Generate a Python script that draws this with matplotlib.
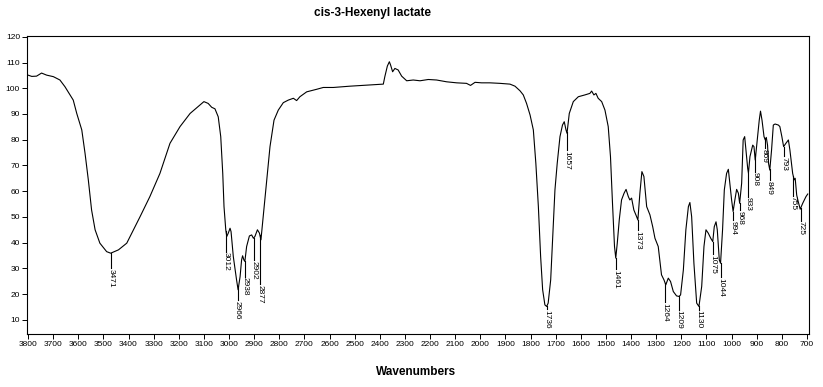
import matplotlib.pyplot as plt
import numpy as np

# spectrum (wavenumber, %T)
wavenumber = [
    3800, 3785, 3766, 3746, 3726, 3699, 3673, 3653, 3633, 3620, 3606, 3586, 3573, 3560,
    3547, 3533, 3514, 3487, 3471, 3440, 3407, 3374, 3354, 3315, 3275, 3235, 3195, 3155,
    3116, 3100, 3083, 3069, 3056, 3043, 3033, 3025, 3020, 3013, 3009, 3003, 2996, 2992,
    2983, 2970, 2964, 2956, 2950, 2946, 2941, 2937, 2930, 2919, 2910, 2903, 2897, 2887,
    2879, 2873, 2864, 2850, 2837, 2821, 2804, 2784, 2764, 2744, 2731, 2718, 2691, 2651,
    2625, 2585, 2519, 2452, 2386, 2380, 2370, 2362, 2357, 2349, 2340, 2327, 2313, 2293,
    2267, 2240, 2207, 2174, 2134, 2094, 2055, 2039, 2021, 1995, 1962, 1922, 1882, 1862,
    1842, 1829, 1816, 1802, 1789, 1779, 1769, 1760, 1752, 1743, 1736, 1730, 1720, 1712,
    1703, 1694, 1683, 1673, 1666, 1659, 1655, 1646, 1630, 1610, 1584, 1564, 1557, 1548,
    1540, 1531, 1517, 1504, 1491, 1482, 1474, 1466, 1461, 1455, 1447, 1438, 1428, 1420,
    1411, 1405, 1398, 1389, 1378, 1373, 1365, 1357, 1349, 1338, 1325, 1314, 1305, 1292,
    1279, 1269, 1262, 1252, 1243, 1232, 1219, 1209, 1203, 1192, 1182, 1172, 1166, 1159,
    1150, 1139, 1130, 1119, 1110, 1102, 1093, 1083, 1075, 1069, 1062, 1057, 1049, 1044,
    1036, 1029, 1020, 1013, 1007, 1000, 994, 987, 980, 973, 968, 960, 954, 948,
    943, 936, 933, 927, 916, 911, 906, 898, 890, 885, 879, 871, 866, 862,
    857, 853, 848, 841, 834, 827, 814, 808, 800, 793, 784, 774, 768, 757,
    751, 747, 741, 735, 727, 717, 704, 697,
]
transmittance = [
    105.1, 104.6, 104.7, 105.9, 105.1, 104.5, 103.2, 100.6, 97.4, 95.4, 90.2, 83.8, 74.7, 64.4,
    52.7, 45.0, 39.8, 36.5, 35.9, 37.2, 39.8, 46.2, 50.1, 57.9, 66.9, 78.6, 85.1, 90.2,
    93.5, 94.8, 94.1, 92.6, 92.0, 88.9, 81.2, 66.9, 54.0, 45.0, 42.4, 43.7, 45.6, 44.3,
    34.6, 25.5, 21.7, 26.8, 33.3, 34.9, 33.3, 32.7, 38.5, 42.6, 43.0, 41.7, 42.4, 45.0,
    43.7, 41.1, 50.1, 64.4, 77.3, 87.6, 91.5, 94.4, 95.4, 96.1, 95.2, 96.7, 98.6, 99.6,
    100.3, 100.3, 100.8, 101.2, 101.6, 104.5, 108.6, 110.3, 109.0, 106.4, 107.7, 107.1, 104.7, 102.9,
    103.2, 102.9, 103.4, 103.2, 102.5, 102.1, 101.9, 101.1, 102.3, 102.1, 102.1, 101.9, 101.6, 100.8,
    99.0, 97.4, 94.1, 89.6, 83.8, 70.8, 54.0, 34.6, 21.7, 15.8, 15.2, 16.5, 25.5, 42.4,
    60.5, 70.8, 81.2, 85.7, 87.0, 83.8, 82.5, 90.2, 94.8, 96.7, 97.4, 98.0, 98.9, 97.4,
    98.0, 96.1, 94.8, 91.5, 85.1, 73.4, 55.3, 38.5, 34.0, 39.8, 48.9, 56.6, 59.2, 60.7,
    57.9, 56.6, 57.3, 52.7, 50.1, 48.8, 59.2, 67.6, 65.7, 54.0, 50.8, 46.2, 41.7, 38.5,
    27.5, 25.5, 23.6, 26.2, 24.9, 21.0, 19.3, 19.1, 19.7, 29.4, 45.0, 54.0, 55.6, 50.1,
    32.0, 16.5, 15.2, 23.0, 38.5, 45.0, 43.7, 41.7, 40.4, 46.2, 48.1, 45.0, 33.3, 32.0,
    45.0, 60.5, 66.9, 68.5, 63.1, 56.6, 52.1, 56.6, 60.7, 59.2, 55.3, 63.1, 79.9, 81.2,
    76.0, 68.9, 67.0, 73.4, 77.9, 77.3, 72.1, 79.9, 87.6, 91.1, 87.6, 81.2, 79.9, 80.9,
    77.9, 70.8, 68.2, 76.0, 85.7, 86.1, 85.7, 85.1, 81.2, 77.3, 78.6, 79.9, 76.0, 66.9,
    64.4, 65.0, 58.5, 56.0, 53.0, 55.3, 57.9, 58.9,
]

# picked peaks and the %T level where each label starts
peaks = [3471, 3012, 2966, 2938, 2902, 2877, 1736, 1657, 1461, 1373, 1264, 1209,
         1130, 1075, 1044, 994, 968, 933, 908, 869, 849, 793, 755, 725]
label_level = [30.1, 36.5, 17.8, 26.8, 33.3, 24.0, 14.1, 76.0, 29.7, 45.0, 17.0, 14.0,
               14.0, 35.6, 26.6, 48.8, 52.5, 57.9, 67.6, 76.6, 64.4, 73.7, 58.3, 48.6]

fig = plt.figure(figsize=(8.23, 3.87), dpi=100)
ax = fig.add_axes([27 / 823, 1 - 334 / 387, (809 - 27) / 823, (334 - 36) / 387])

ax.plot(wavenumber, transmittance, color="black", lw=0.8)

wn_sorted = np.array(wavenumber[::-1])
t_sorted = np.array(transmittance[::-1])
for p, lev in zip(peaks, label_level):
    top = np.interp(p, wn_sorted, t_sorted)
    ax.plot([p, p], [top, lev], color="black", lw=0.8)
    ax.text(p, lev - 0.3, str(p), rotation=270, ha="center", va="top",
            fontsize=6, family="Liberation Sans")

ax.set_xlim(3804, 692)
ax.set_ylim(4.5, 120.3)
ax.set_xticks(np.arange(3800, 699, -100))
ax.set_yticks(np.arange(10, 121, 10))
ax.tick_params(axis="both", direction="out", length=3.5, width=0.7, labelsize=6, pad=1.5)
for lab in ax.get_xticklabels() + ax.get_yticklabels():
    lab.set_family("Liberation Sans")
for s in ax.spines.values():
    s.set_linewidth(0.8)

fig.text(372 / 823, 1 - 13 / 387, "cis-3-Hexenyl lactate", ha="center", va="center",
         fontsize=8.5, fontweight="bold", family="Liberation Sans")
fig.text(416 / 823, 1 - 372 / 387, "Wavenumbers", ha="center", va="center",
         fontsize=8.5, fontweight="bold", family="Liberation Sans")

plt.savefig("out.png", dpi=100)
plt.close()
